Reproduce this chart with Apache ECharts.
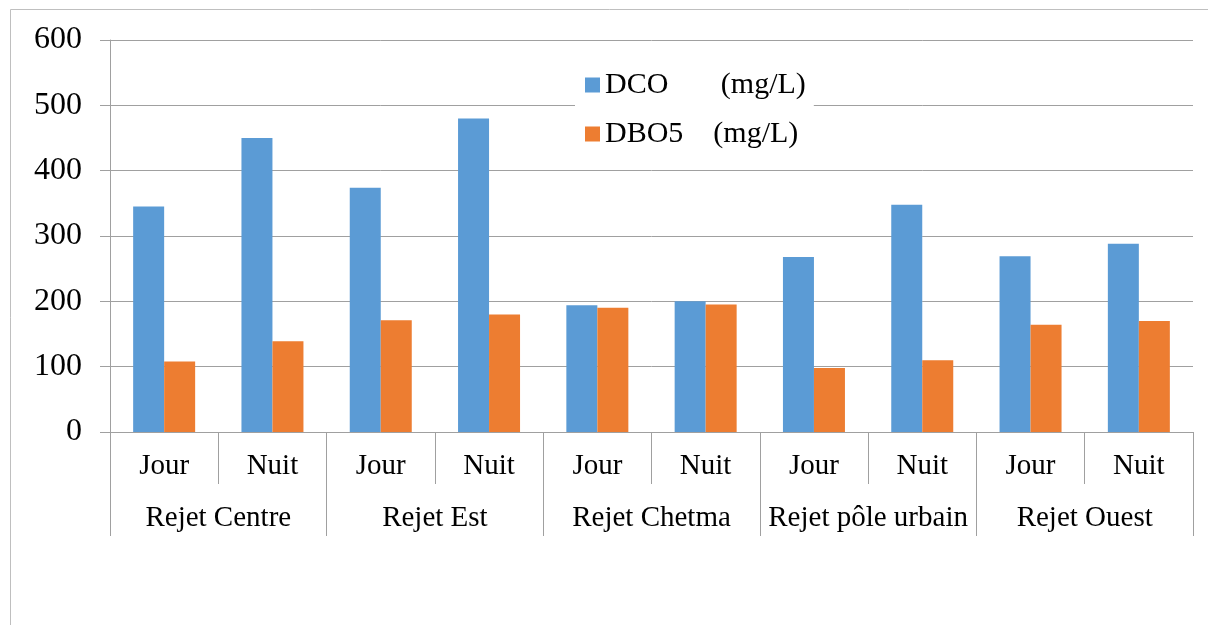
<!DOCTYPE html>
<html>
<head>
<meta charset="utf-8">
<script src="https://cdn.jsdelivr.net/npm/echarts@6/dist/echarts.min.js"></script>
<style>
html,body{margin:0;padding:0;background:#fff;}
#c{width:1208px;height:625px;}
</style>
</head>
<body>
<div id="c"></div>
<script>
var periods = ['Jour','Nuit','Jour','Nuit','Jour','Nuit','Jour','Nuit','Jour','Nuit'];
var groups = ['Rejet Centre','Rejet Est','Rejet Chetma','Rejet pôle urbain','Rejet Ouest'];
var dcoName = 'DCO       (mg/L)';
var dboName = 'DBO5    (mg/L)';
var dco = [345, 450, 374, 480, 194, 200, 268, 348, 269, 288];
var dbo5 = [108, 139, 171, 180, 190, 195, 98, 110, 164, 170];
var yTicks = [0, 100, 200, 300, 400, 500, 600];

var FONT = '"Liberation Serif", "Times New Roman", serif';
var GRID_COLOR = '#a0a0a0';

var chart = echarts.init(document.getElementById('c'), null, {renderer:'canvas'});
chart.setOption({
  animation: false,
  backgroundColor: '#fff',
  graphic: [{
    type: 'rect',
    shape: {x: 10.5, y: 9.5, width: 1400, height: 800},
    style: {fill: 'none', stroke: '#bfbfbf', lineWidth: 1},
    silent: true,
    z: 0
  }],
  grid: {left: 110, right: 15, top: 40, bottom: 193, containLabel: false},
  legend: {
    orient: 'vertical',
    left: 575,
    top: 60,
    padding: [10, 8, 10, 10],
    backgroundColor: '#fff',
    itemWidth: 15,
    itemHeight: 15,
    itemGap: 19,
    icon: 'rect',
    data: [dcoName, dboName],
    textStyle: {fontFamily: FONT, fontSize: 30, color: '#000', lineHeight: 30},
    z: 10
  },
  xAxis: [{
    type: 'category',
    data: periods,
    position: 'bottom',
    axisLine: {show: true, lineStyle: {color: GRID_COLOR, width: 1}},
    axisTick: {show: true, length: 52, interval: 0, lineStyle: {color: GRID_COLOR, width: 1}},
    axisLabel: {interval: 0, margin: 20, fontFamily: FONT, fontSize: 29, color: '#000'},
    splitLine: {show: false}
  }, {
    type: 'category',
    data: groups,
    position: 'bottom',
    gridIndex: 0,
    axisLine: {show: false},
    axisTick: {show: true, length: 104, interval: 0, lineStyle: {color: GRID_COLOR, width: 1}},
    axisLabel: {interval: 0, margin: 72, fontFamily: FONT, fontSize: 29, color: '#000'},
    splitLine: {show: false}
  }],
  yAxis: {
    type: 'value',
    min: yTicks[0],
    max: yTicks[yTicks.length - 1],
    interval: 100,
    axisLine: {show: true, lineStyle: {color: GRID_COLOR, width: 1}},
    axisTick: {show: true, length: 10, lineStyle: {color: GRID_COLOR, width: 1}},
    axisLabel: {margin: 28, fontFamily: FONT, fontSize: 32, color: '#000'},
    splitLine: {show: true, lineStyle: {color: GRID_COLOR, width: 1}}
  },
  series: [{
    name: dcoName,
    type: 'bar',
    data: dco,
    barWidth: 31,
    barGap: '0%',
    itemStyle: {color: '#5B9BD5'}
  }, {
    name: dboName,
    type: 'bar',
    data: dbo5,
    barWidth: 31,
    barGap: '0%',
    itemStyle: {color: '#ED7D31'}
  }]
});
</script>
</body>
</html>
